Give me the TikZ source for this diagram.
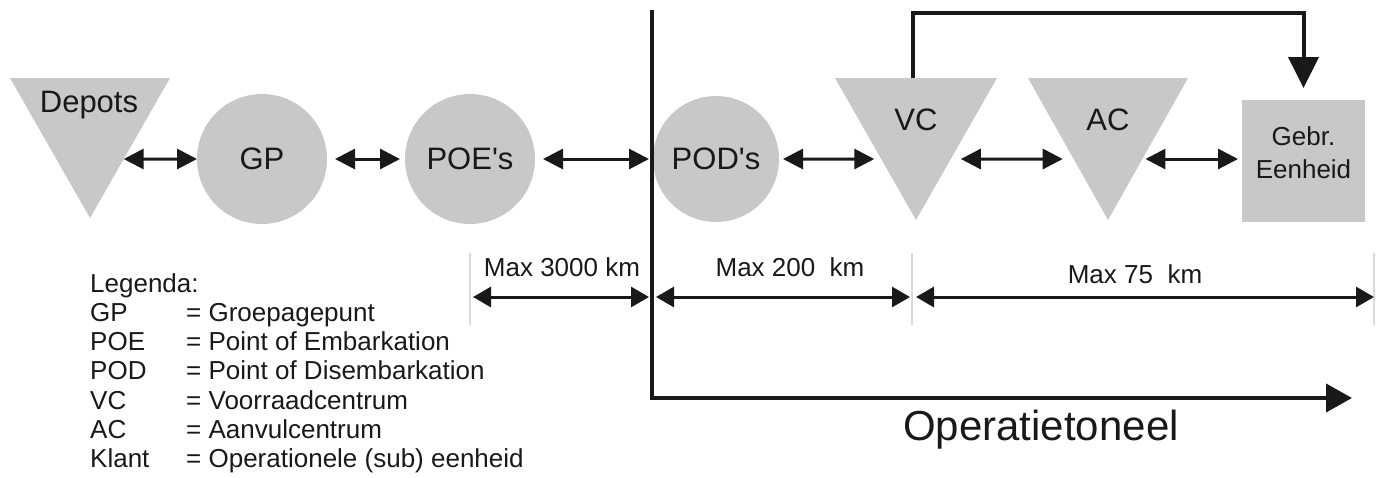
\documentclass[tikz,border=0pt]{standalone}
\usepackage{fontspec}
\setmainfont{Liberation Sans}
\usetikzlibrary{arrows.meta}
\definecolor{shapegray}{RGB}{200,200,200}
\definecolor{ink}{RGB}{25,25,25}
\definecolor{tickgray}{RGB}{218,218,218}
\newcommand{\myfs}[2]{\fontsize{#1}{#2}\selectfont}
\begin{document}
\begin{tikzpicture}[x=1pt,y=-1pt,
  shp/.style={fill=shapegray,draw=none},
  circ/.style={shp,circle,minimum size=130,inner sep=0,outer sep=0,text=ink,font=\myfs{31}{36}},
  lbl/.style={text=ink,font=\myfs{31}{36},inner sep=0},
  dbl/.style={draw=ink,line width=3,{Triangle[length=20,width=20]}-{Triangle[length=20,width=20]}},
  dimarrow/.style={draw=ink,line width=3,{Triangle[length=18,width=20]}-{Triangle[length=18,width=20]}},
  axisline/.style={draw=ink,line width=4},
  tickline/.style={draw=tickgray,line width=1.2},
  dimlbl/.style={text=ink,font=\myfs{26}{30},inner sep=0,anchor=base},
  leg/.style={text=ink,font=\myfs{26}{29},inner sep=0,anchor=base west},
]
\useasboundingbox (0,0) rectangle (1379,477);

% shapes
\path[shp] (10,78) coordinate (dTL) -- (170,78) coordinate (dTR) -- (90,218) coordinate (dB) -- cycle;
\node[lbl] (depots) at (89,105) {Depots};
\node[circ] (gp) at (262,159) {GP};
\node[circ] (poe) at (470,159) {POE\textquotesingle s};
\node[circ,minimum size=126] (pod) at (716,159) {POD\textquotesingle s};
\path[shp] (835,78) coordinate (vTL) -- (997,78) coordinate (vTR) -- (916,220) coordinate (vB) -- cycle;
\node[lbl] (vc) at (916,120) {VC};
\path[shp] (1028,78) coordinate (aTL) -- (1188,78) coordinate (aTR) -- (1108,220) coordinate (aB) -- cycle;
\node[lbl] (ac) at (1108,120) {AC};
\node[shp,minimum width=123,minimum height=122,inner sep=0,outer sep=0] (geb) at (1303.5,161) {};
\node[text=ink,font=\myfs{26}{33},align=center,inner sep=0] (gebt) at (1303.5,153) {Gebr.\\Eenheid};

% edge points on triangles
\coordinate (dR) at (intersection of dTR--dB and gp.west--gp.east);
\coordinate (vL) at (intersection of vTL--vB and gp.west--gp.east);
\coordinate (vR) at (intersection of vTR--vB and gp.west--gp.east);
\coordinate (aL) at (intersection of aTL--aB and gp.west--gp.east);
\coordinate (aR) at (intersection of aTR--aB and gp.west--gp.east);

% axes
\coordinate (vtop) at (652,10);
\coordinate (corner) at (652,398);
\coordinate (opend) at (1352,398);
\draw[axisline,-{Triangle[length=26,width=28]}] (vtop) -- (corner) -- (opend);
\node[text=ink,font=\myfs{42}{48},inner sep=0,anchor=base west] (op) at (903,440) {Operatietoneel};

% top feedback arrow
\coordinate (vcTop) at (913,78);
\draw[axisline,-{Triangle[length=31,width=30]},shorten >=12] (vcTop) -- ++(0,-65) -| (geb.north);

% flow arrows
\draw[dbl] (dR) -- (gp.west);
\draw[dbl,shorten <=8,shorten >=5] (gp.east) -- (poe.west);
\draw[dbl,shorten <=8,shorten >=4] (poe.east) -- (pod.west);
\draw[dbl,shorten <=4,shorten >=7] (pod.east) -- (vL);
\draw[dbl,shorten <=10,shorten >=11] (vR) -- (aL);
\draw[dbl,shorten <=3,shorten >=4] (aR) -- (aR -| geb.west);

% distance markers
\coordinate (t1) at (470,297);
\coordinate (t2) at (652,297);
\coordinate (t3) at (912,297);
\coordinate (t4) at (1374,297);
\draw[tickline] (t1) ++(0,-44) -- ++(0,72);
\draw[tickline] (t3) ++(0,-44) -- ++(0,72);
\draw[tickline] (t4) ++(0,-44) -- ++(0,72);
\draw[dimarrow,shorten <=3,shorten >=3] (t1) -- (t2);
\draw[dimarrow,shorten <=4,shorten >=2] (t2) -- (t3);
\draw[dimarrow,shorten <=4,shorten >=0] (t3) -- (t4);
\node[dimlbl] (m1) at (562,276) {Max 3000 km};
\node[dimlbl] (m2) at (790,276) {Max 200\ \ km};
\node[dimlbl] (m3) at (1135,283) {Max 75\ \ km};

% legend
\node[leg] (lg) at (90,292) {Legenda:};
\node[leg] (k1) at (90,321) {GP};    \node[leg] (v1) at (186,321) {= Groepagepunt};
\node[leg] (k2) at (90,350) {POE};   \node[leg] (v2) at (186,350) {= Point of Embarkation};
\node[leg] (k3) at (90,379) {POD};   \node[leg] (v3) at (186,379) {= Point of Disembarkation};
\node[leg] (k4) at (90,409) {VC};    \node[leg] (v4) at (186,409) {= Voorraadcentrum};
\node[leg] (k5) at (90,438) {AC};    \node[leg] (v5) at (186,438) {= Aanvulcentrum};
\node[leg] (k6) at (90,467) {Klant}; \node[leg] (v6) at (186,467) {= Operationele (sub) eenheid};
\end{tikzpicture}
\end{document}
